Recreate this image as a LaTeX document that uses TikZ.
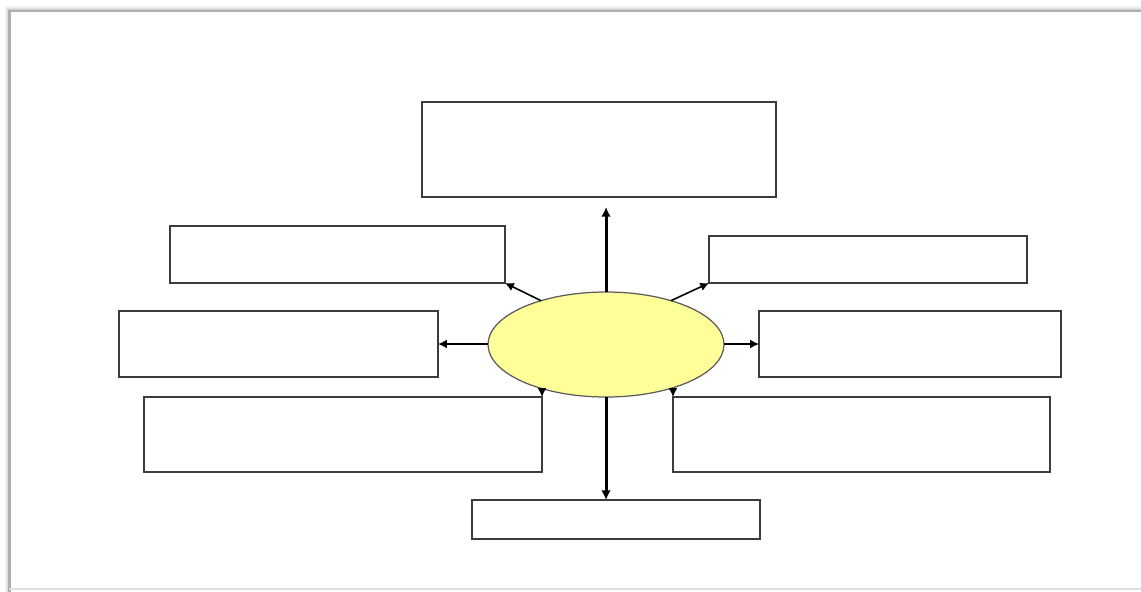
\documentclass[tikz,border=0pt]{standalone}
\usetikzlibrary{arrows.meta,shapes.geometric,calc}
\definecolor{boxline}{RGB}{60,60,60}
\definecolor{elfill}{RGB}{255,255,153}
\definecolor{elline}{RGB}{90,90,90}
\definecolor{framecol}{RGB}{175,175,175}
\tikzset{
  blank/.style={draw=boxline, line width=0.8pt, fill=white, inner sep=0pt, outer sep=0pt},
  hub/.style={ellipse, draw=elline, line width=0.7pt, fill=elfill, inner sep=0pt, outer sep=0pt,
              minimum width=236*0.02cm, minimum height=105*0.02cm},
  thinarrow/.style={-{Latex[length=5pt,width=5pt]}, line width=0.9pt, black},
  thickarrow/.style={-{Latex[length=5.5pt,width=5.5pt]}, line width=1.7pt, black},
}
\newcommand{\pbox}[5]{% name, x1, y1, x2, y2
  \node[blank, minimum width={(#4-#2)*0.02cm}, minimum height={(#5-#3)*0.02cm}]
    (#1) at ({(#2+#4)/2*0.02}, {-(#3+#5)/2*0.02}) {};}
\begin{document}
\begin{tikzpicture}
\useasboundingbox (0,0) rectangle (1141*0.02,-591*0.02);
% frame with soft shadow
\foreach \k/\c in {4/96,3/92,2/88,1/82}{
  \draw[line width=1pt, black!\the\numexpr 100-\c\relax]
    ({(9.5-\k)*0.02}, -595*0.02) -- ({(9.5-\k)*0.02},{-(11-\k)*0.02}) -- (1150*0.02,{-(11-\k)*0.02});
}
\draw[framecol, line width=1.2pt] (9.5*0.02,-600*0.02) -- (9.5*0.02,-11*0.02) -- (1150*0.02,-11*0.02);
\draw[black!12, line width=1pt] (9.5*0.02,-589*0.02) -- (1150*0.02,-589*0.02);
% boxes
\pbox{top}{422}{102}{776}{197}
\pbox{ul}{170}{226}{505}{283}
\pbox{ur}{709}{236}{1027}{283}
\pbox{ml}{119}{311}{438}{377}
\pbox{mr}{759}{311}{1061}{377}
\pbox{ll}{144}{397}{542}{472}
\pbox{lr}{673}{397}{1050}{472}
\pbox{bot}{472}{500}{760}{539}
% hub
\node[hub] (el) at (606*0.02,-344.5*0.02) {};
% connectors
\draw[thickarrow] (el.north) -- ($(el.north |- top.south)+(0,-10*0.02)$);
\draw[thickarrow] (el.south) -- (el.south |- bot.north);
\draw[thinarrow] (el.146) -- (ul.south east);
\draw[thinarrow] (el.34) -- (ur.south west);
\draw[thinarrow] (el.west |- ml.east) -- (ml.east);
\draw[thinarrow] (el.east |- mr.west) -- (mr.west);
\draw[thinarrow] (el.214 -| ll.north east) -- (ll.north east);
\draw[thinarrow] (el.326 -| lr.north west) -- (lr.north west);
\end{tikzpicture}
\end{document}
